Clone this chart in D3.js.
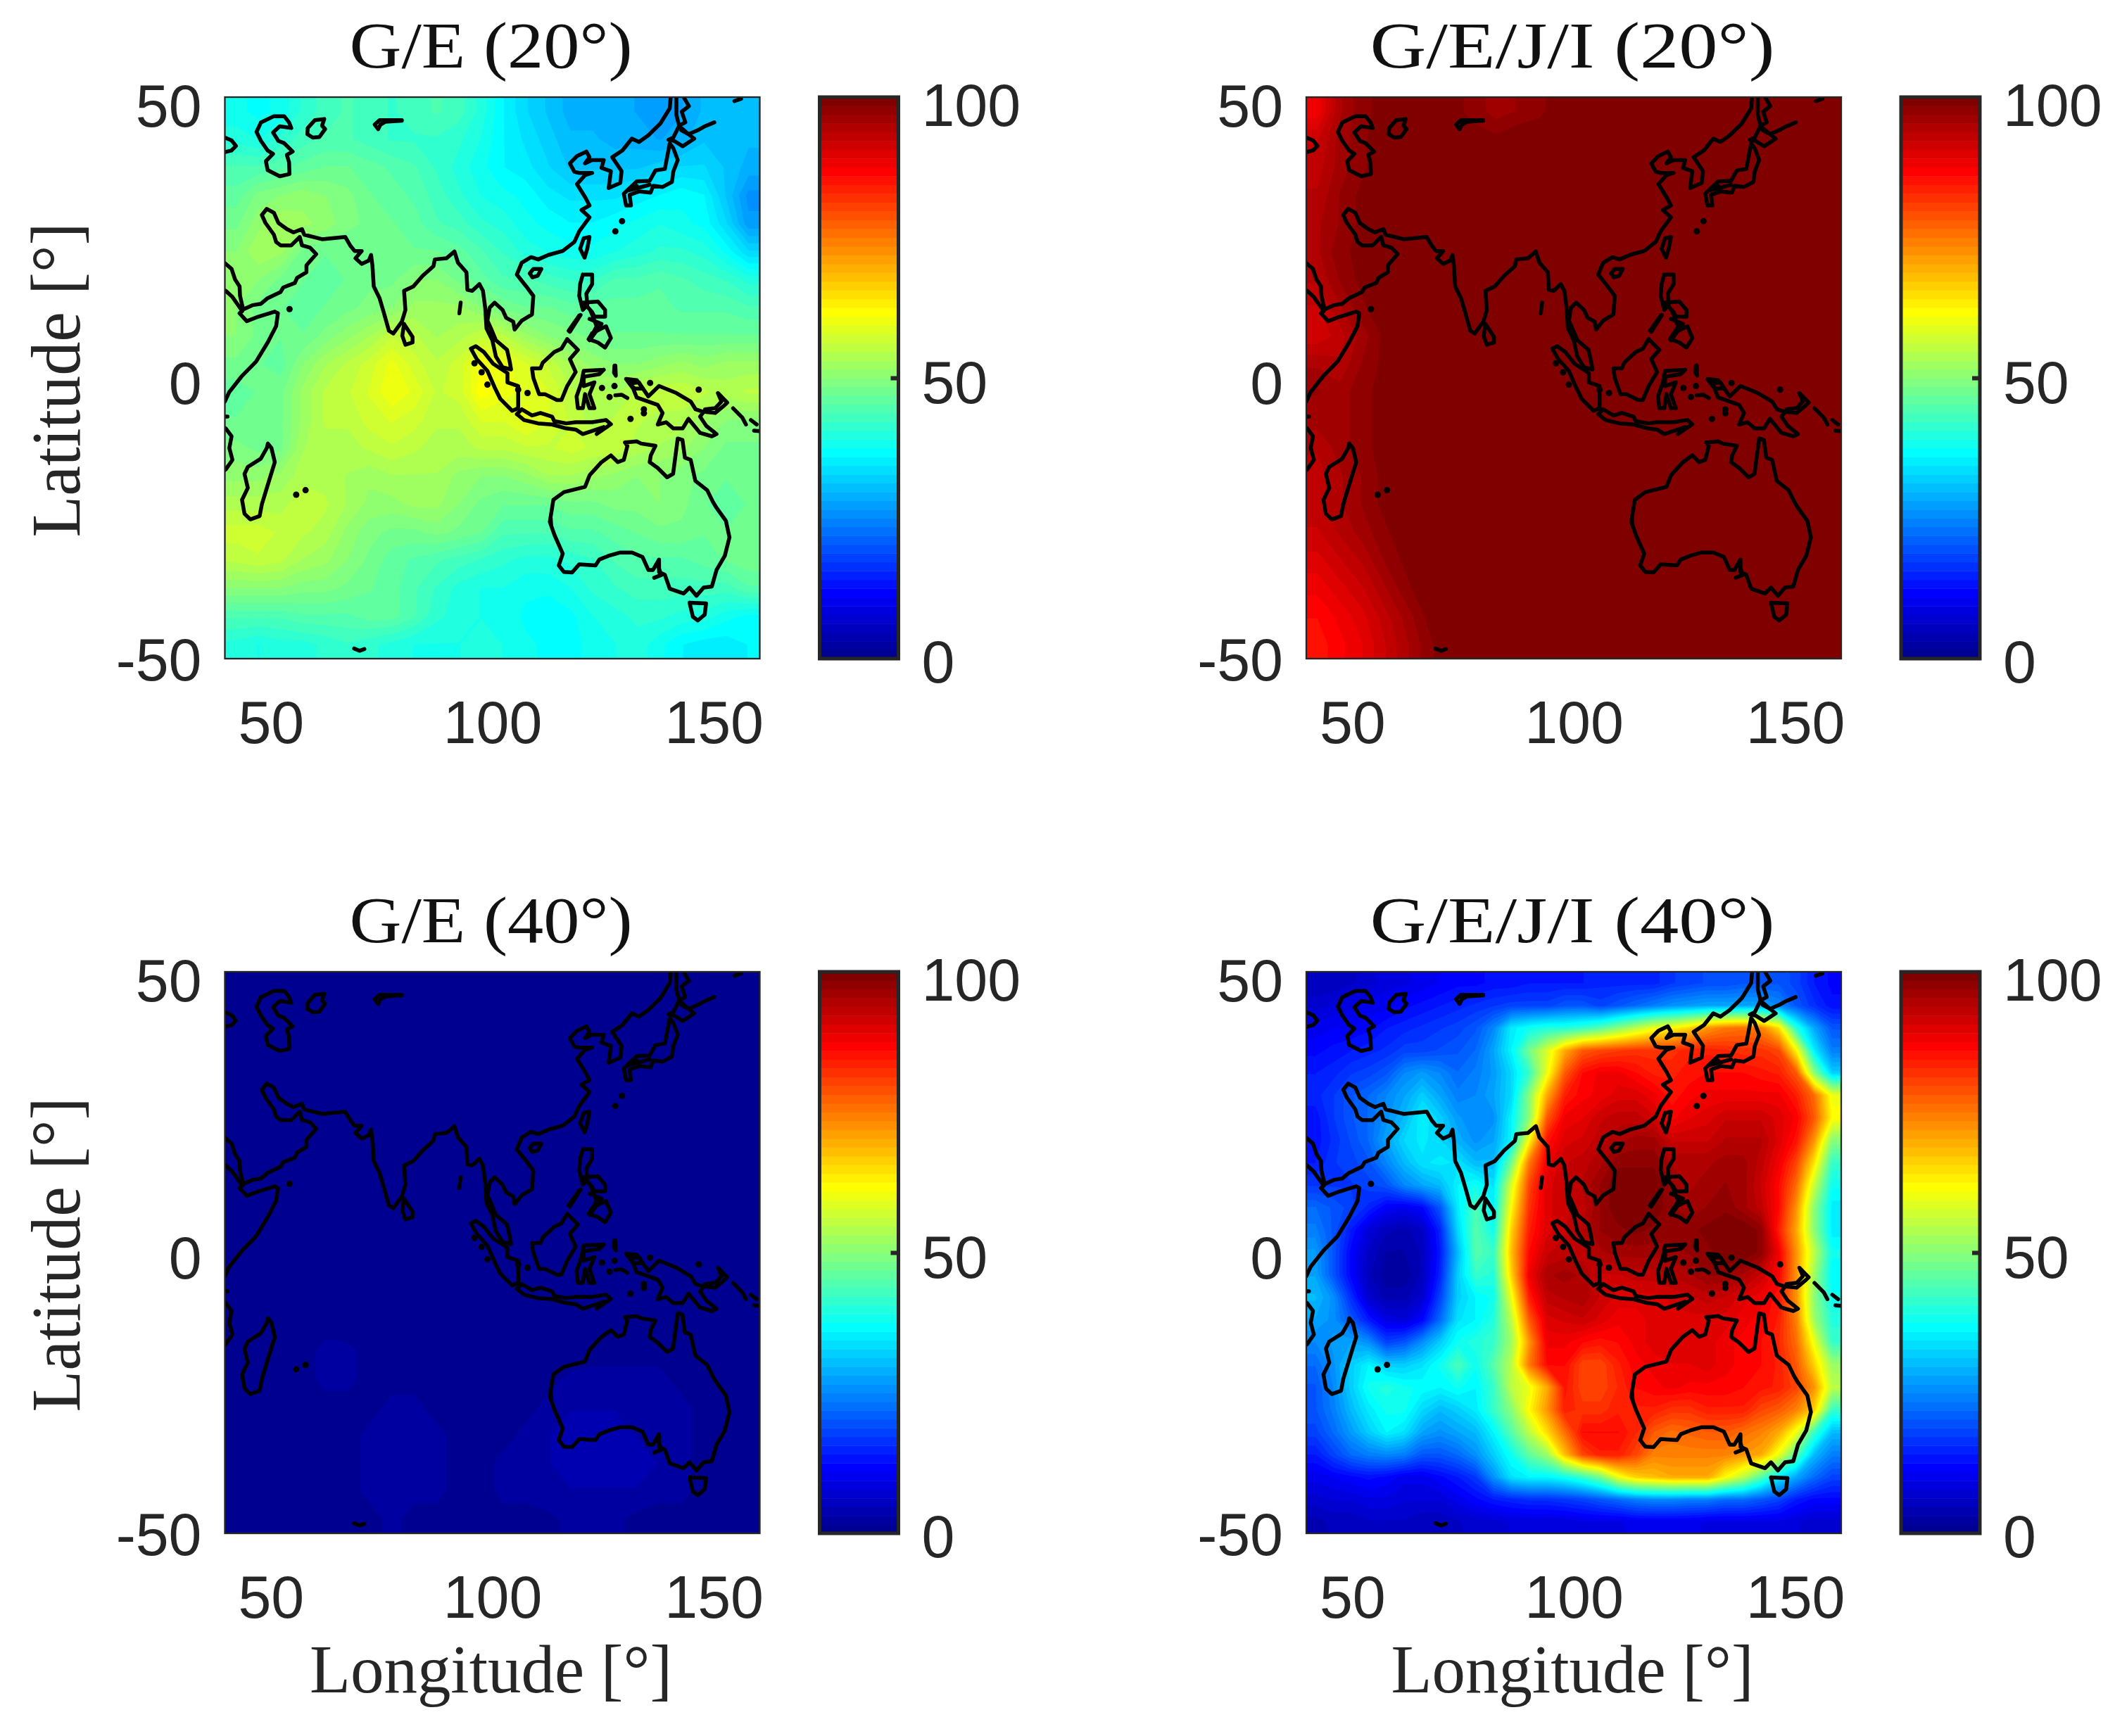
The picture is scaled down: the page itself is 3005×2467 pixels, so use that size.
<!DOCTYPE html>
<html>
<head>
<meta charset="utf-8">
<script src="https://cdn.jsdelivr.net/npm/d3@7"></script>
<style>
  html, body { margin: 0; background: #fff; }
  svg { display: block; }
</style>
</head>
<body>
<script>
var lonTicks = [50, 100, 150],
    latTicks = [-50, 0, 50],
    barTicks = [0, 50, 100];

// availability in %. rows run north to south, each cell 5 deg
var ge20 = [
  [38,37,38,41,43,44,43,42,43,44,43,40,36,33,31,29,29,29,28,27,28,30,31,31],
  [40,39,41,43,44,44,43,42,42,42,41,39,36,34,32,30,30,29,29,28,29,31,31,30],
  [44,44,45,46,47,47,46,45,44,42,40,38,36,35,33,31,31,31,31,32,33,33,31,29],
  [46,49,50,51,50,49,47,46,45,43,41,39,38,37,35,34,34,34,35,36,37,36,31,26],
  [48,51,53,52,51,49,48,47,46,44,43,41,40,38,37,36,36,37,38,39,38,37,33,27],
  [50,53,52,48,47,47,47,47,47,47,46,44,42,40,39,38,38,39,40,41,41,40,37,33],
  [50,50,48,47,46,47,48,48,50,50,48,46,44,44,43,42,42,44,44,45,44,43,42,40],
  [50,48,47,46,47,48,49,50,52,52,52,50,48,47,47,46,46,46,46,46,45,45,45,44],
  [50,48,47,47,49,51,53,56,55,53,54,56,55,52,50,49,48,47,47,47,47,47,47,47],
  [48,47,46,50,53,55,57,60,57,55,57,61,60,58,56,53,51,50,50,51,52,51,52,52],
  [46,47,48,52,55,56,58,61,59,56,57,62,60,59,58,55,54,53,55,56,56,55,54,55],
  [47,47,48,52,55,55,57,58,57,55,55,58,58,60,58,56,54,55,55,54,54,52,50,50],
  [49,48,48,53,54,54,55,56,55,54,54,55,55,56,56,57,56,56,54,53,52,50,48,48],
  [51,51,52,54,54,53,52,53,53,53,51,50,50,51,53,53,52,51,50,50,49,48,47,47],
  [54,54,54,56,55,53,51,51,52,52,50,48,47,47,47,48,48,49,49,50,49,47,46,47],
  [57,57,56,55,54,51,49,48,48,49,48,47,44,44,44,45,45,46,47,48,48,47,47,47],
  [55,56,55,53,52,50,48,46,45,44,43,42,41,40,40,41,42,44,45,45,45,46,47,48],
  [50,50,50,49,49,48,47,46,44,42,40,39,39,38,38,39,41,42,43,43,43,43,43,45],
  [44,44,44,45,45,45,46,46,44,41,40,39,39,37,36,37,39,40,41,41,40,40,38,37],
  [40,39,40,40,41,42,41,40,39,39,39,40,39,38,37,37,38,39,40,38,36,35,35,36]
];

var geji20 = [
  [88,95,98,99,100,100,99,98,96,97,98,100,100,100,100,100,100,100,100,100,99,100,100,100],
  [92,96,98,100,100,100,100,99,99,100,100,100,100,100,99,99,99,100,100,100,100,100,100,100],
  [93,96,98,100,100,100,100,100,100,100,100,100,100,100,100,100,100,100,100,100,100,100,100,100],
  [94,97,99,100,100,100,100,100,100,100,100,100,100,100,100,100,100,100,100,100,100,100,100,100],
  [95,97,99,100,100,100,100,100,100,100,100,100,100,100,100,100,100,100,100,100,100,100,100,100],
  [95,98,99,100,100,100,100,100,100,100,100,100,100,100,100,100,100,100,100,100,100,100,100,100],
  [94,97,99,100,100,100,100,100,100,100,100,100,100,100,100,100,100,100,100,100,100,100,100,100],
  [92,95,98,100,100,100,100,100,100,100,100,100,100,100,100,100,100,100,100,100,100,100,100,100],
  [91,93,96,99,100,100,100,100,100,100,100,100,100,100,100,100,100,100,100,100,100,100,100,100],
  [95,94,97,99,100,100,100,100,100,100,100,100,100,100,100,100,100,100,100,100,100,100,100,100],
  [97,96,98,99,100,100,100,100,100,100,100,100,100,100,100,100,100,100,100,100,100,100,100,100],
  [96,96,98,99,100,100,100,100,100,100,100,100,100,100,100,100,100,100,100,100,100,100,100,100],
  [94,96,98,99,100,100,100,100,100,100,100,100,100,100,100,100,100,100,100,100,100,100,100,100],
  [93,95,97,99,100,100,100,100,100,100,100,100,100,100,100,100,100,100,100,100,100,100,100,100],
  [93,95,97,99,100,100,100,100,100,100,100,100,100,100,100,100,100,100,100,100,100,100,100,100],
  [92,94,96,98,100,100,100,100,100,100,100,100,100,100,100,100,100,100,100,100,100,100,100,100],
  [90,92,94,97,99,100,100,100,100,100,100,100,100,100,100,100,100,100,100,100,100,100,100,100],
  [88,90,92,95,98,100,100,100,100,100,100,100,100,100,100,100,100,100,100,100,100,100,100,100],
  [86,88,90,93,96,99,100,100,100,100,100,100,100,100,100,100,100,100,100,100,100,100,100,100],
  [85,87,89,92,95,98,100,99,99,100,100,100,100,100,100,100,100,100,100,100,100,100,100,100]
];

var ge40 = [
  [.5,.5,.5,.5,.5,.5,.5,.5,.5,.5,.5,.5,.5,.5,.5,.5,.5,.5,.5,.5,.5,.5,.5,.5],
  [.5,.5,.5,.5,.5,.5,.5,.5,.5,.5,.5,.5,.5,.5,.5,.5,.5,.5,.5,.5,.5,.5,.5,.5],
  [.5,.5,.5,.5,.5,.5,.5,.5,.5,.5,.5,.5,.5,.5,.5,.5,.5,.5,.5,.5,.5,.5,.5,.5],
  [.5,.5,.5,.5,.5,.5,.5,.5,.5,.5,.5,.5,.5,.5,.5,.5,.5,.5,.5,.5,.5,.5,.5,.5],
  [.5,.5,.5,.5,.5,.5,.5,.5,.5,.5,.5,.5,.5,.5,.5,.5,.5,.5,.5,.5,.5,.5,.5,.5],
  [.5,.5,.5,.5,.5,.5,.5,.5,.5,.5,.5,.5,.5,.5,.5,.5,.5,.5,.5,.5,.5,.5,.5,.5],
  [.5,.5,.5,.5,.5,.5,.5,.5,.5,.5,.5,.5,.5,.5,.5,.5,.5,.5,.5,.5,.5,.5,.5,.5],
  [.5,.5,.5,.5,.5,.5,.5,.5,.5,.5,.5,.5,.5,.5,.5,.5,.5,.5,.5,.5,.5,.5,.5,.5],
  [.5,.5,.5,.5,.5,.5,.5,.5,.5,.5,.5,.5,.5,.5,.5,.5,.5,.5,.5,.5,.5,.5,.5,.5],
  [.5,.5,.5,.5,.5,.5,.5,.5,.5,.5,.5,.5,.5,.5,.5,.5,.5,.5,.5,.5,.5,.5,.5,.5],
  [.5,.5,.5,.5,.5,.5,.5,.5,.5,.5,.5,.5,.5,.5,.5,.5,.5,.5,.5,.5,.5,.5,.5,.5],
  [.5,.5,.5,.5,.5,.5,.5,.5,.5,.5,.5,.5,.5,.5,.5,.5,.5,.5,.5,.5,.5,.5,.5,.5],
  [.5,.5,.5,.5,1,.5,.5,.5,.5,.5,.5,.5,.5,.5,.5,.5,.5,.5,.5,.5,.5,.5,.5,.5],
  [.5,.5,.5,1,2,2,1,.5,.5,.5,.5,.5,.5,.5,.5,.5,1,1,1,1,1,.5,.5,.5],
  [.5,.5,.5,1,2,2,1,1,1,.5,.5,.5,.5,.5,1,2,2,2,2,2,1,.5,.5,.5],
  [.5,.5,.5,1,1,1,1,2,2,1,.5,.5,1,1,2,3,3,3,3,2,2,1,.5,.5],
  [.5,.5,.5,.5,1,1,2,3,3,2,1,1,1,2,3,4,4,4,3,3,2,1,.5,.5],
  [.5,.5,.5,.5,.5,1,2,3,3,2,1,1,2,3,3,4,4,4,4,3,2,1,.5,.5],
  [.5,.5,.5,.5,.5,1,2,3,2,2,1,1,2,2,3,3,3,3,3,2,2,1,.5,.5],
  [.5,.5,.5,.5,.5,.5,1,2,1,1,.5,.5,1,1,1,2,2,2,1,1,1,.5,.5,.5]
];

// this one has more structure, so 4 deg cells
var geji40 = [
  [5,5,6,7,9,9,10,11,12,12,13,13,14,14,14,14,15,15,15,15,17,18,19,19,20,20,20,18,14,12],
  [7,8,9,10,10,12,13,14,15,16,17,18,18,18,20,20,18,20,22,24,26,27,28,28,28,28,25,20,16,13],
  [10,11,11,12,14,15,16,17,18,20,25,35,38,40,40,42,45,50,55,60,62,66,72,75,76,74,65,40,28,20],
  [12,13,14,15,16,18,18,19,20,22,28,36,48,58,70,78,80,81,82,82,82,84,84,83,82,82,80,62,35,24],
  [14,15,17,18,20,25,27,25,22,24,27,33,42,60,78,86,88,88,86,84,84,85,86,86,86,85,84,78,50,32],
  [15,17,20,22,25,28,32,28,24,25,28,33,50,70,84,87,88,90,90,88,85,87,88,88,88,88,88,84,76,60],
  [13,17,20,22,26,30,36,32,27,25,26,36,50,78,88,89,92,93,93,91,87,89,90,92,92,92,90,87,78,62],
  [13,16,19,22,28,33,35,33,29,26,28,36,62,85,90,91,93,95,96,96,92,92,92,94,94,94,90,85,72,50],
  [14,17,18,20,25,30,34,35,34,30,30,48,75,88,92,93,95,98,98,98,95,95,95,96,96,93,88,80,64,42],
  [17,17,17,18,20,25,28,30,36,38,34,58,80,90,92,94,97,100,100,100,97,95,96,97,96,92,86,76,56,38],
  [22,20,18,15,11,10,12,20,35,44,36,62,82,90,92,93,97,100,100,100,97,96,97,98,96,93,86,72,50,35],
  [24,20,14,8,5,4,6,15,33,45,38,66,84,90,92,94,97,98,99,98,98,98,99,100,100,98,84,70,50,35],
  [27,20,12,6,3,3,5,14,30,45,42,68,86,92,93,93,95,96,96,96,96,97,98,100,100,98,88,72,55,38],
  [28,20,12,5,2,2,5,15,32,42,40,66,88,95,96,95,92,92,93,93,94,95,97,97,95,92,87,72,52,36],
  [30,26,16,7,4,4,7,18,32,36,38,60,84,93,94,95,92,90,90,90,91,92,93,92,90,88,85,72,50,38],
  [28,26,20,14,9,8,12,22,34,36,40,55,78,90,91,92,90,88,88,90,90,90,90,90,88,87,84,74,52,40],
  [25,27,28,26,18,20,26,32,38,40,42,52,72,88,88,86,85,86,88,90,90,90,90,88,87,86,83,76,60,42],
  [22,26,32,36,32,32,34,38,44,38,45,55,75,86,86,80,80,84,87,88,89,89,90,88,87,86,84,78,66,52],
  [20,25,32,38,40,38,37,36,38,36,42,55,60,70,85,80,80,83,86,87,88,87,87,87,86,85,84,80,72,55],
  [20,24,30,35,38,38,33,30,32,35,42,50,62,72,84,82,82,84,84,84,82,82,84,84,84,80,78,74,66,42],
  [18,22,27,32,36,34,28,26,28,30,36,45,55,65,76,86,86,86,83,78,76,77,78,78,76,74,70,60,42,30],
  [14,18,22,24,25,24,20,20,22,26,32,38,46,52,68,80,84,84,80,74,74,74,74,74,72,70,60,45,30,24],
  [10,11,12,13,12,10,10,12,14,17,26,34,36,36,38,42,48,60,66,68,70,70,70,62,55,45,35,28,22,18],
  [7,8,8,9,9,8,8,8,10,12,14,15,16,16,17,18,20,22,24,25,25,24,24,22,22,20,18,14,12,12],
  [4,5,5,6,6,6,5,5,6,7,7,8,8,8,8,9,9,9,10,10,10,10,9,9,9,9,9,8,7,7]
];

// coastlines, [lon, lat]
var landLines = [
  [[48.1,45.5],[51,46.6],[53.3,46.6],[54.4,45.5],[54.9,44.5],[52.3,44.8],[50.8,43.7],[52,42.2],[53.3,41.8],[55.2,40.3],[53.9,39.7],[54.4,38.4],[54.5,36.3],[52.3,35.9],[49.6,37],[49.2,38.6],[50.8,39.9],[49.6,40.5],[48.1,42.2],[47.1,43.8],[48.1,45.5]],
  [[58.6,44.5],[60.2,45.9],[62.3,46.1],[61.8,44.9],[62.5,44.3],[61.2,42.9],[59.7,42.8],[58.5,43.4],[58.6,44.5]],
  [[74.4,44.3],[73.6,45.1],[74.7,45.9],[77.1,45.9],[79.7,45.9],[79.7,45.8],[76,45.6],[74.9,45.1],[74.4,44.3]],
  [[39,42.8],[40,42.8],[41.5,42.3],[42.5,41.3],[41.5,40.5],[40,40.2],[39,40.2]],
  // red sea, arabia, then the long run round to the sea of okhotsk
  [[39,21],[40.2,20.3],[41.5,19.4],[42.3,17.5],[43.3,16.3],[43.4,14.6],[44.1,12.2],[46.2,12.95],[48.1,13.2],[49.6,14.2],[52.5,15.3],[53.1,16.1],[55.7,16.9],[56.2,17.8],[58.3,18.8],[58.3,20.05],[60.5,22.05],[59.1,23.2],[57.3,23.6],[56.8,25.1],[54.9,23.6],[52.5,23.6],[51.5,24.2],[51,25.5],[49.1,27.6],[48.3,29],[49.4,30.1],[51,29.4],[52,27.6],[53.9,26.5],[55.4,25.9],[57.3,26.5],[57.8,25.5],[61.8,24.7],[67,25.1],[68.1,23.6],[69.1,22.6],[70.7,22.6],[69.3,21.3],[70.7,20.3],[72.3,20.9],[72.8,21.9],[73.1,20.05],[73.4,16.3],[74.7,14.2],[75.7,11.5],[76.8,8.4],[77.8,7.9],[79.7,10],[80.5,12.1],[80.2,15.5],[82.3,16.3],[84.4,18.2],[86.8,19.9],[87.1,21.1],[89.7,21.3],[91.5,22.5],[92.3,20.5],[94.2,18.8],[94.4,15.7],[95.5,15.5],[97.1,16.7],[97.9,15.5],[98.4,12.5],[98.7,8.8],[100,6.7],[100.8,3.8],[102.3,1.9],[104.2,1.5],[103.9,2.9],[103.3,5],[100.8,6.7],[99.7,8.8],[98.9,10.2],[99.4,12.5],[100.5,13.4],[102.3,12.1],[103.1,10.7],[104.7,10],[105,8.6],[106.6,10.2],[108.9,11.3],[109.2,14.6],[107.6,16.3],[105.5,18.4],[106.6,20.5],[108.7,21.5],[110.3,21.1],[112.6,21.9],[115.8,22.6],[118.4,24.2],[119.5,26.1],[121.8,28.6],[120,29.9],[121.8,30.7],[120.8,32.2],[119,34.5],[120.8,36.1],[122.4,36.5],[119.5,36.5],[118.4,36.7],[117.4,38.2],[119,39.5],[121.1,40.3],[121.8,39.3],[120.8,38.2],[122.4,38.8],[125,38.8],[124.5,37.4],[126.6,36.8],[126.1,33.8],[128.7,34.7],[129,36.8],[126.9,39.3],[129.2,40.5],[131.3,42.6],[132.9,42],[135,43.2],[137.7,45.3],[139.8,48],[140,49.9],[140,52]],
  // horn of africa
  [[39,16],[40.2,15.5],[41.7,14.4],[43.9,11.9],[43.3,11.5],[44.9,10.1],[47.5,10.9],[51.2,11.8],[51.9,11.5],[51.5,9.2],[49.6,6.3],[47,2.9],[43.9,.4],[41,-2.5],[40,-4.2],[39,-5]],
  [[39,-6.9],[40.6,-6.9]],
  [[39,-8.5],[40.2,-9],[41.5,-10.4],[41,-12.5],[41.7,-14.6],[40.2,-16.3],[39,-17]],
  [[80.2,9.6],[82.1,7.3],[82.1,6.3],[80.5,5.9],[79.8,7.5],[80.2,9.6]],
  [[92.9,13.4],[92.6,11.5]],
  [[108.4,18.6],[109.2,19.4],[111,19.4],[110.2,18.2],[109,17.9],[108.4,18.6]],
  [[120.5,24.85],[121.8,25.1],[121.3,23],[120.7,21.4],[119.7,23],[120.5,24.85]],
  // sakhalin, hokkaido, kurils
  [[141.3,52],[141.3,49.9],[141.3,46.8],[141.9,44.9],[140.6,42.8],[139.5,42.4],[140.8,42.2],[142.7,41.25],[145.3,42.6],[144,43.4],[142.1,44.7],[141.9,44.9]],
  [[143,49.9],[144.1,48.4],[142.5,47.4],[143.3,45.5],[141.9,44.9]],
  [[142.4,44.1],[144,43.4],[146.1,44.1],[147.4,44.7],[149.8,45.5]],
  [[154.3,49.3],[155.8,49.7]],
  // honshu
  [[139.8,41.75],[139.2,39.25],[138.7,37.2],[136.6,36.95],[135.3,35.1],[132.4,35],[129.5,32.8],[130,30.7],[131.1,30.7],[130.8,32.6],[132.9,33.2],[135.5,33],[136.1,34.2],[138.2,34],[140.3,34.9],[140.6,36.75],[141.6,38.8],[140.6,40.9],[139.8,41.75]],
  [[132.4,34.2],[130.5,33.4],[133,33.9],[135.3,34.4]],
  // philippines
  [[120.3,18.4],[122.4,18.4],[122.4,16.7],[121.1,15],[121.3,12.95],[120.3,12.1],[119.5,14.6],[119.7,16.7],[120.3,18.4]],
  [[120.5,13.4],[123.7,13.6],[125.3,12.1],[125.3,10.9],[122.9,10.9],[122.4,11.7],[120.5,13.4]],
  [[121.8,10.5],[124.5,9.6],[123.4,8.4],[121.8,6.7],[123.4,9.2],[122,12]],
  [[122.4,7.95],[125.5,9.2],[126.6,7.1],[125.3,5.4],[123.7,6.3],[121.6,6.9],[122.4,7.95]],
  [[119.5,11.1],[117.1,8.4],[117.4,8.2],[119.8,11.2]],
  // borneo, sumatra, java + lesser sunda
  [[116.8,6.9],[119.2,5],[117.4,3.35],[118.7,1.05],[116.8,-1.45],[115.5,-3.95],[114.5,-3.95],[111.8,-2.9],[110.5,-2.9],[109.2,0],[108.9,1.7],[110.8,1.7],[111.3,2.7],[113.9,4.6],[115.5,5.2],[116.8,6.9]],
  [[95.2,5.2],[96.3,5.65],[98.1,4.6],[100.2,2.5],[103.4,.85],[103.4,-.8],[105.8,-1.45],[105.8,-5.4],[104.45,-5.85],[101.8,-3.75],[100.5,-1.65],[98.9,1.25],[96.5,3.35],[95.2,5.2]],
  [[105.5,-6.45],[106.6,-5.6],[108.9,-6.7],[110.8,-6.25],[113.4,-6.9],[113.9,-7.7],[116.6,-8.1],[118.7,-7.9],[122.4,-7.9],[125.5,-7.5],[126.6,-8.25],[123.4,-10],[125,-8.75],[120.3,-10],[118.7,-9.2],[116.6,-9],[113.4,-8.3],[110.25,-8.1],[107.1,-7.5],[105.5,-6.45]],
  // sulawesi
  [[125,1.45],[120.5,1.25],[120,-.8],[118.9,-3.3],[119.2,-5.4],[120.3,-5.4],[120.8,-2.9],[121.8,-5.4],[122.9,-5.4],[121.8,-2.9],[122.9,-.8],[120.5,-1.45],[120.5,.2],[124,.65],[125,1.45]],
  // new guinea etc
  [[130,-.2],[132.4,-.4],[133.4,-1.45],[135,-3.3],[137.4,-1.45],[141.3,-2.7],[144.5,-4.2],[145.6,-5.6],[147.4,-6.05],[146.6,-6.9],[148,-8.55],[150.3,-10],[149.25,-10.4],[146.6,-9.8],[144,-7.3],[142.7,-9],[140.6,-9],[139,-7.9],[137.1,-8.3],[138.2,-6.25],[137.1,-4.8],[132.4,-3.5],[131.6,-1.9],[130,-.2]],
  [[130.8,-1],[132.9,-.8],[133.7,-1.9],[131.9,-1.9],[130.8,-1]],
  [[147.7,-6.05],[150,-6.25],[151.9,-5],[152.7,-4.4],[150.6,-2.7],[151.4,-4.2],[150,-5.4],[147.7,-5.6],[147.7,-6.05]],
  [[154,-5.4],[156.1,-7.1],[156.9,-8.3]],
  [[158,-7.5],[159.3,-8.3]],
  [[158.7,-9.4],[160,-9.5]],
  [[127.4,2.2],[127.3,.9],[127.7,.4],[127.6,2.2]],
  [[127.6,-3.1],[129,-3],[130.3,-3.6]],
  // australia
  [[129.75,-11.5],[132.4,-11.3],[133.4,-11.7],[136.6,-12.1],[135.55,-13.8],[135.3,-15],[137.1,-16.05],[139.2,-17.7],[140.55,-17.1],[141.6,-10.8],[142.65,-11.05],[143.2,-14.2],[144.5,-14.6],[145.55,-18.35],[148.2,-20],[149.5,-22.1],[150.3,-23.15],[152.4,-25.45],[153.2,-28.4],[152.15,-31.7],[150.3,-34.2],[149.25,-37.15],[147.4,-37.35],[145.8,-38.8],[144.25,-37.35],[142.9,-38.4],[139.8,-37.55],[138.7,-35.05],[137.4,-34.6],[137.4,-32.35],[136.05,-34.2],[135,-34.2],[133.7,-31.9],[131.35,-31.1],[128.7,-31.1],[126.05,-31.7],[124,-32.35],[123.15,-33.4],[119.5,-33.2],[117.9,-34.65],[116.05,-34.55],[114.9,-33.4],[115.8,-31.3],[113.95,-28],[112.9,-25.65],[113.7,-21.7],[116.05,-20.35],[120.8,-19.4],[121.85,-17.3],[124.5,-15],[126.6,-13.8],[128.15,-15],[129.5,-14.6],[130.3,-12.1],[129.75,-11.5]],
  [[136.3,-35.6],[137.9,-35.1],[137.2,-33.5]],
  [[113.1,-25],[113.2,-26.2]],
  [[144.25,-40.05],[147.95,-40.15],[147.65,-42.15],[146.1,-43.2],[145,-42.55],[144.25,-40.05]],
  // madagascar
  [[49.65,-11.7],[50.45,-12.5],[51.2,-15],[49.9,-18.35],[48.3,-22.5],[47.8,-24.6],[45.7,-25.2],[44.4,-24.2],[43.85,-21.7],[45.15,-19.6],[44.4,-17.1],[45.15,-15.85],[48.05,-14.4],[49.4,-12.5],[49.65,-11.7]],
  [[69,-48.2],[70.2,-48.6],[71.3,-48.3]]
];

// islands too small to be more than a blob
var islandDots = [[54.5,12.25],[56,-20.8],[58.1,-20],[96,2.6],[97.6,1],[98.9,-1.2],[105.8,-2.1],[107.9,-2.7],
  [126.3,-3.4],[124.6,-1.8],[127.4,-1.45],[135.4,-.9],[146.3,-2.1],[129.1,27.9],[127.6,26.1],[131,-7.3],[134,-5.6],[134,-6.3]];

var titles = ["G/E (20°)", "G/E/J/I (20°)", "G/E (40°)", "G/E/J/I (40°)"],
    titleWidths = [402, 575, 402, 575],
    gridList = [ge20, geji20, ge40, geji40];

var svg = d3.select("body").append("svg")
    .attr("width", 3005)
    .attr("height", 2467)
    .style("font-family", "'Liberation Sans'");

// jet, 64 steps like the matlab colormap
var jetRamp = d3.scaleLinear()
    .domain([0, .125, .375, .625, .875, 1])
    .range(["#000080", "#0000ff", "#00ffff", "#ffff00", "#ff0000", "#800000"]);
var jet = d3.range(64).map(function(i) { return jetRamp((i + 1) / 64); });
var levels = d3.range(64).map(function(i) { return i * 100 / 64; });

var axW = 760, axH = 798, barW = 112,
    colX = [319.5, 1856],
    rowY = [138, 1381],
    barGap = 845;

var x = d3.scaleLinear().domain([40, 160]).range([0, axW]);
var y = d3.scaleLinear().domain([-50, 50]).range([axH, 0]);
var barY = d3.scaleLinear().domain([0, 100]).range([axH, 0]);

var line = d3.line()
    .x(function(d) { return x(d[0]); })
    .y(function(d) { return y(d[1]); });

// repeat the outer cells once so contours do not cut the panel corners
function padGrid(grid) {
  var rows = grid.map(function(r) { return [r[0]].concat(r, [r[r.length - 1]]); });
  return [rows[0]].concat(rows, [rows[rows.length - 1]]);
}

// the reference labels do not sit exactly on their ticks
function tickText(sel, place) {
  sel.selectAll("text")
      .attr("x", 0).attr("y", 0).attr("dy", 0)
      .attr("transform", function(d, k) { return "translate(" + place(k) + ") scale(.98,1)"; })
      .style("font-size", "86px")
      .style("font-family", "'Liberation Sans'")
      .attr("fill", "#262626");
}

gridList.forEach(function(grid, i) {
  var col = i % 2, row = i >> 1;
  var g = svg.append("g").attr("transform", "translate(" + colX[col] + "," + rowY[row] + ")");

  g.append("clipPath").attr("id", "clip" + i)
    .append("rect").attr("width", axW).attr("height", axH);

  var plot = g.append("g").attr("clip-path", "url(#clip" + i + ")");

  // one filled band per colour level
  var padded = padGrid(grid),
      nx = grid[0].length, ny = grid.length,
      cellLon = 120 / nx, cellLat = 100 / ny;
  var path = d3.geoPath(d3.geoTransform({
    point: function(c, r) { this.stream.point(x(40 + (c - 1) * cellLon), y(50 - (r - 1) * cellLat)); }
  }));
  var bands = d3.contours().size([nx + 2, ny + 2]).thresholds(levels)(d3.merge(padded));

  plot.selectAll("path.band")
      .data(bands)
    .enter().append("path")
      .attr("class", "band")
      .attr("d", path)
      .attr("fill", function(d, k) { return jet[k]; });

  plot.selectAll("path.coast")
      .data(landLines)
    .enter().append("path")
      .attr("class", "coast")
      .attr("d", line)
      .attr("fill", "none")
      .attr("stroke", "#000")
      .attr("stroke-width", 5.5)
      .attr("stroke-linejoin", "round")
      .attr("stroke-linecap", "round");

  plot.selectAll("circle.island")
      .data(islandDots)
    .enter().append("circle")
      .attr("class", "island")
      .attr("cx", function(d) { return x(d[0]); })
      .attr("cy", function(d) { return y(d[1]); })
      .attr("r", 4.5)
      .attr("fill", "#000");

  g.append("rect")
      .attr("width", axW)
      .attr("height", axH)
      .attr("fill", "none")
      .attr("stroke", "#262626")
      .attr("stroke-width", 2.3);

  var xAxis = g.append("g")
      .attr("transform", "translate(0," + axH + ")")
      .call(d3.axisBottom(x).tickValues(lonTicks).tickSize(0).tickFormat(String));
  xAxis.select(".domain").remove();
  tickText(xAxis, function(k) { return [2 - k * 2, 120]; });

  var yAxis = g.append("g")
      .call(d3.axisLeft(y).tickValues(latTicks).tickSize(0).tickFormat(String));
  yAxis.select(".domain").remove();
  tickText(yAxis, function(k) { return [-33, [30, 36, 41][k]]; });

  // colorbar
  var bar = g.append("g").attr("transform", "translate(" + barGap + ",0)");
  bar.selectAll("rect.level")
      .data(levels)
    .enter().append("rect")
      .attr("class", "level")
      .attr("x", 0)
      .attr("width", barW)
      .attr("y", function(d) { return barY(d + 100 / 64); })
      .attr("height", axH / 64 + .5)
      .attr("fill", function(d, k) { return jet[k]; });
  bar.append("rect")
      .attr("width", barW)
      .attr("height", axH)
      .attr("fill", "none")
      .attr("stroke", "#262626")
      .attr("stroke-width", 5);
  var barAxis = bar.append("g")
      .attr("transform", "translate(" + barW + ",0)")
      .call(d3.axisRight(barY).tickValues(barTicks).tickSize(-11).tickFormat(String));
  barAxis.select(".domain").remove();
  barAxis.selectAll("line")
      .attr("stroke", "#262626")
      .attr("stroke-width", 6)
      .attr("display", function(d) { return d == 50 ? null : "none"; });
  tickText(barAxis, function(k) { return [33, [33, 35, 40][k]]; });
  barAxis.selectAll("text").attr("text-anchor", "start");

  // title and axis labels
  g.append("text")
      .attr("x", axW / 2 - 2)
      .attr("y", -42)
      .attr("text-anchor", "middle")
      .attr("textLength", titleWidths[i])
      .attr("lengthAdjust", "spacingAndGlyphs")
      .style("font-family", "'Liberation Serif'")
      .style("font-size", "94px")
      .attr("fill", "#111")
      .text(titles[i]);

  if (col == 0) {
    g.append("text")
        .attr("transform", "translate(-207," + (axH / 2 + 3) + ") rotate(-90)")
        .attr("text-anchor", "middle")
        .attr("textLength", 447)
        .attr("lengthAdjust", "spacingAndGlyphs")
        .style("font-family", "'Liberation Serif'")
        .style("font-size", "100px")
        .attr("fill", "#262626")
        .text("Latitude [°]");
  }
  if (row == 1) {
    g.append("text")
        .attr("x", axW / 2 - 2)
        .attr("y", axH + 226)
        .attr("text-anchor", "middle")
        .attr("textLength", 515)
        .attr("lengthAdjust", "spacingAndGlyphs")
        .style("font-family", "'Liberation Serif'")
        .style("font-size", "98px")
        .attr("fill", "#262626")
        .text("Longitude [°]");
  }
});
</script>
</body>
</html>
